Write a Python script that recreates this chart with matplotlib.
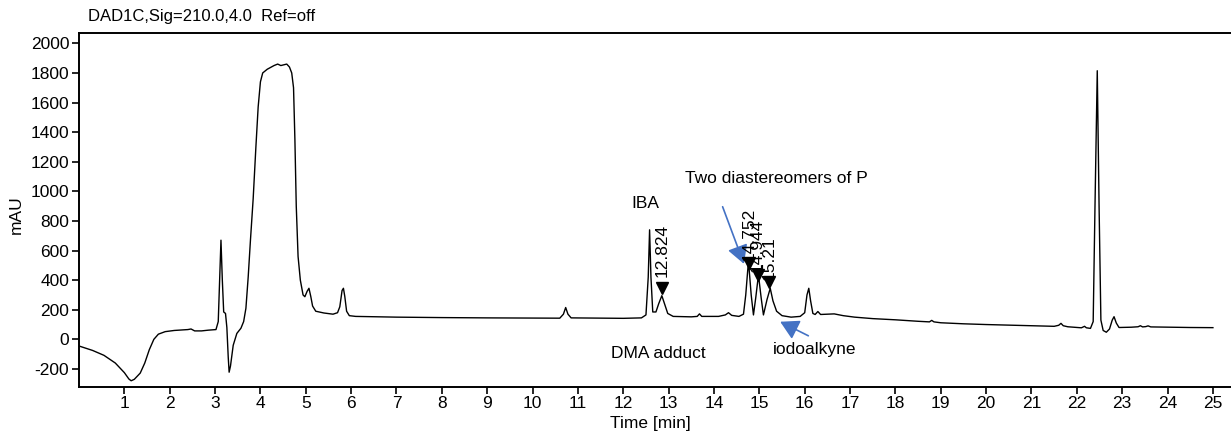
import matplotlib
matplotlib.use("Agg")
import matplotlib.pyplot as plt
from matplotlib.patches import FancyArrowPatch

plt.rcParams['font.family'] = ['Liberation Sans', 'DejaVu Sans']
plt.rcParams['axes.unicode_minus'] = False

# ---- chromatogram trace ----
time_min = [0.00, 0.30, 0.55, 0.80, 1.00, 1.10, 1.15, 1.22, 1.35, 1.45, 1.55, 1.65, 1.75, 1.90, 2.10,
            2.40, 2.47, 2.55, 2.70, 2.85, 3.02, 3.07, 3.10, 3.13, 3.16, 3.19, 3.23, 3.26, 3.29, 3.31,
            3.34, 3.40, 3.48, 3.57, 3.63, 3.68, 3.73, 3.78, 3.84, 3.90, 3.95, 4.00, 4.05, 4.15, 4.30,
            4.38, 4.45, 4.52, 4.58, 4.64, 4.69, 4.73, 4.76, 4.79, 4.83, 4.88, 4.94, 4.98, 5.03, 5.07,
            5.11, 5.15, 5.22, 5.40, 5.60, 5.70, 5.75, 5.80, 5.83, 5.86, 5.90, 5.96, 6.10, 7.00, 8.00,
            9.00, 10.00, 10.60, 10.68, 10.73, 10.78, 10.85, 11.50, 12.00, 12.40, 12.50, 12.55, 12.58, 12.61,
            12.65, 12.72, 12.78, 12.85, 12.91, 12.98, 13.10, 13.50, 13.63, 13.68, 13.73, 14.10, 14.25, 14.32,
            14.39, 14.55, 14.65, 14.70, 14.76, 14.82, 14.87, 14.92, 14.98, 15.04, 15.09, 15.17, 15.24, 15.30,
            15.38, 15.50, 15.70, 15.90, 16.00, 16.05, 16.09, 16.13, 16.18, 16.23, 16.29, 16.35, 16.50, 16.65,
            16.85, 17.10, 17.50, 18.00, 18.50, 18.75, 18.80, 18.85, 19.00, 19.50, 20.00, 20.50, 21.00, 21.50,
            21.60, 21.65, 21.70, 21.80, 22.10, 22.17, 22.21, 22.30, 22.36, 22.40, 22.45, 22.49, 22.53, 22.58,
            22.65, 22.72, 22.78, 22.82, 22.87, 22.93, 23.20, 23.35, 23.40, 23.45, 23.52, 23.57, 23.63, 24.00,
            24.50, 25.00]
signal_mau = [-45, -75, -108, -160, -225, -268, -280, -270, -228, -160, -70, 0, 35, 52, 60,
              66, 70, 57, 57, 62, 66, 120, 400, 670, 400, 185, 175, 80, -120, -222,
              -180, -40, 40, 75, 120, 210, 420, 670, 950, 1300, 1570, 1740, 1800, 1825, 1850,
              1860, 1850, 1855, 1860, 1840, 1800, 1700, 1350, 900, 560, 400, 300, 288, 325, 345,
              290, 225, 190, 178, 170, 180, 220, 330, 345, 290, 190, 160, 155, 150, 147,
              145, 144, 143, 170, 215, 170, 145, 143, 142, 145, 165, 420, 740, 420,
              185, 185, 240, 295, 240, 175, 155, 152, 155, 172, 155, 155, 165, 180,
              162, 155, 170, 300, 530, 300, 165, 280, 435, 280, 165, 270, 345, 260,
              190, 160, 150, 155, 180, 300, 345, 260, 175, 168, 188, 168, 170, 172,
              160, 150, 140, 132, 122, 118, 128, 118, 112, 105, 100, 96, 92, 88,
              95, 108, 92, 85, 78, 88, 78, 74, 120, 900, 1815, 900, 130, 60,
              48, 70, 130, 153, 110, 80, 82, 85, 92, 84, 86, 91, 84, 82,
              80, 79]

# ---- integrated peak marks ----
peak_rt = [12.85, 14.77, 14.96, 15.22]
peak_mark_mau = [345, 513, 434, 389]
peak_labels = ["12.824", "14.752", "14.944", "15.21"]
peak_label_base = [423, 531, 457, 401]

x_ticks = list(range(1, 26))
y_ticks = list(range(-200, 2001, 200))

FS = 12.5
W, H = 1231, 432
fig = plt.figure(figsize=(W / 100, H / 100), dpi=100)
ax = fig.add_axes([79 / W, 1 - 386.7 / H, (W - 79) / W + 0.01, (386.7 - 32.7) / H])

ax.plot(time_min, signal_mau, color='black', lw=1.0, solid_joinstyle='round')
ax.plot(peak_rt, peak_mark_mau, linestyle='none', marker='v', color='black', markersize=9)
for rt, base, lab in zip(peak_rt, peak_label_base, peak_labels):
    ax.text(rt, base, lab, rotation=90, ha='center', va='bottom', fontsize=FS)

ax.set_xlim(0, 25.67)
ax.set_ylim(-320, 2072)
ax.set_xticks(x_ticks)
ax.set_yticks(y_ticks)
ax.tick_params(direction='out', length=5, width=1.2, labelsize=FS, pad=2)
for s in ['left', 'top', 'bottom']:
    ax.spines[s].set_linewidth(1.4)
ax.spines['right'].set_visible(False)

ax.set_xlabel("Time [min]", fontsize=FS)
ax.xaxis.set_label_coords(0.491, -0.083)
ax.set_ylabel("mAU", fontsize=FS)
ax.yaxis.set_label_coords(-0.047, 0.485)

fig.text(88 / W, 1 - 16 / H, "DAD1C,Sig=210.0,4.0  Ref=off", fontsize=12, ha='left', va='center')

ax.text(12.48, 921, "IBA", ha='center', va='center', fontsize=FS)
ax.text(15.37, 1090, "Two diastereomers of P", ha='center', va='center', fontsize=FS)
ax.text(12.78, -93, "DMA adduct", ha='center', va='center', fontsize=FS)
ax.text(16.22, -72, "iodoalkyne", ha='center', va='center', fontsize=FS)

blue = '#4472C4'
for tail, tip in [((14.19, 896), (14.66, 510)), ((16.08, 24), (15.46, 119))]:
    ax.add_patch(FancyArrowPatch(tail, tip, arrowstyle='-|>,head_length=0.8,head_width=0.45',
                                 mutation_scale=14, color=blue, lw=1.2, shrinkA=0, shrinkB=0))

fig.savefig("out.png", dpi=100)
